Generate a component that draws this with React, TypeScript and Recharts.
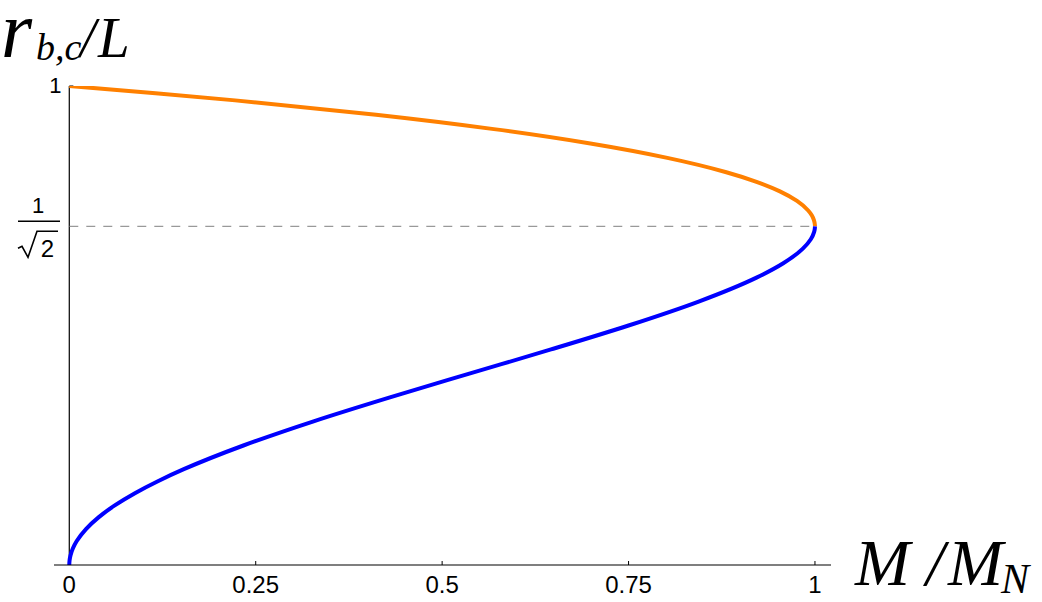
import React from 'react';
import { LineChart, Line, XAxis, YAxis, ReferenceLine, Label } from 'recharts';

// horizon radius r/L along the lower (blue) branch and the M/M_N read at each
const blueRadius = [0, 0.005, 0.01, 0.02, 0.035, 0.05, 0.075, 0.1, 0.125, 0.15, 0.175, 0.2, 0.25, 0.3, 0.35, 0.4, 0.45, 0.5, 0.55, 0.6, 0.63, 0.66, 0.68, 0.695, 0.7, 0.7071];
const blueMass = [0, 0.0001, 0.0004, 0.0016, 0.0049, 0.01, 0.0224, 0.0396, 0.0615, 0.088, 0.1188, 0.1536, 0.2344, 0.3276, 0.43, 0.5376, 0.646, 0.75, 0.844, 0.9216, 0.9575, 0.9834, 0.9944, 0.9988, 0.9996, 1];

// upper (orange) branch
const orangeRadius = [0.7071, 0.71, 0.72, 0.73, 0.74, 0.76, 0.78, 0.8, 0.82, 0.85, 0.88, 0.91, 0.94, 0.97, 0.985, 1];
const orangeMass = [1, 0.9999, 0.9986, 0.9957, 0.9909, 0.9759, 0.953, 0.9216, 0.8811, 0.802, 0.6988, 0.5694, 0.4114, 0.2224, 0.1156, 0];

const xTicks = [0, 0.25, 0.5, 0.75, 1];
const xTickLabels = ['0', '0.25', '0.5', '0.75', '1'];
const invSqrt2 = 0.7071;
const yTicks = [invSqrt2, 1];

const blueData = blueRadius.map((r, i) => ({ m: blueMass[i], r }));
const orangeData = orangeRadius.map((r, i) => ({ m: orangeMass[i], r }));

const sans = '"Liberation Sans", Arial, sans-serif';
const serif = '"Liberation Serif", "Times New Roman", serif';

const XTick = ({ x, y, payload }: any) => {
  const idx = xTicks.indexOf(payload.value);
  return (
    <g>
      {payload.value !== 0 && <line x1={x} x2={x} y1={y - 4} y2={y} stroke="#000" strokeWidth={1} />}
      <text x={x} y={y + 28} textAnchor="middle" fontSize={24} fontFamily={sans} fill="#000">
        {xTickLabels[idx]}
      </text>
    </g>
  );
};

const YTick = ({ x, y, payload }: any) => {
  if (payload.value === 1) {
    return (
      <text x={x + 7.5} y={y + 7} textAnchor="end" fontSize={22} fontFamily={sans} fill="#000">1</text>
    );
  }
  return (
    <g fontFamily={sans} fill="#000">
      <text x={x - 16} y={y - 13} textAnchor="middle" fontSize={22}>1</text>
      <line x1={x - 36} x2={x + 6} y1={y - 5} y2={y - 5} stroke="#000" strokeWidth={1.6} />
      <path
        d={`M${x - 36},${y + 22} L${x - 32},${y + 20} L${x - 26},${y + 31} L${x - 17},${y + 5} L${x + 4},${y + 5}`}
        fill="none"
        stroke="#000"
        strokeWidth={1.6}
      />
      <text x={x - 6.5} y={y + 31} textAnchor="middle" fontSize={24}>2</text>
    </g>
  );
};

const YTitle = () => (
  <g fontFamily={serif} fontStyle="italic" fill="#000">
    <text x={1} y={57} fontSize={80}>r</text>
    <text x={36} y={60} fontSize={38}>b,c</text>
    <text x={80} y={57} fontSize={56}>/</text>
    <text x={98} y={57} fontSize={57}>L</text>
  </g>
);

const XTitle = () => (
  <g fontFamily={serif} fontStyle="italic" fill="#000">
    <text x={855} y={585} fontSize={66}>M</text>
    <text x={926} y={585} fontSize={66}>/</text>
    <text x={948} y={585} fontSize={66}>M</text>
    <text x={1001} y={593} fontSize={42}>N</text>
  </g>
);

export default function App() {
  return (
    <div style={{ position: 'absolute', left: 0, top: 0, background: '#fff' }}>
      <LineChart width={1042} height={602} margin={{ top: 86, right: 211, bottom: 0, left: 0 }}>
        <XAxis
          dataKey="m"
          type="number"
          domain={[-0.0205, 1.0215]}
          allowDataOverflow
          ticks={xTicks}
          tick={<XTick />}
          tickLine={false}
          tickSize={0}
          tickMargin={0}
          height={37}
          axisLine={{ stroke: '#000', strokeWidth: 1.2 }}
        >
          <Label content={<XTitle />} />
        </XAxis>
        <YAxis
          dataKey="r"
          type="number"
          domain={[0, 1]}
          allowDataOverflow
          ticks={yTicks}
          tick={<YTick />}
          tickLine={false}
          tickSize={0}
          tickMargin={0}
          axisLine={false}
          width={54}
        >
          <Label content={<YTitle />} />
        </YAxis>
        <ReferenceLine segment={[{ x: 0, y: 0 }, { x: 0, y: 1 }]} stroke="#000" strokeWidth={1.2} />
        <ReferenceLine segment={[{ x: 0, y: 1 }, { x: 0.0055, y: 1 }]} stroke="#000" strokeWidth={1} />
        <ReferenceLine
          segment={[{ x: 0, y: invSqrt2 }, { x: 1, y: invSqrt2 }]}
          stroke="#808080"
          strokeWidth={1}
          strokeDasharray="9 8"
        />
        <Line data={orangeData} dataKey="r" type="monotoneY" stroke="#FF8000" strokeWidth={4} dot={false} isAnimationActive={false} />
        <Line data={blueData} dataKey="r" type="monotoneY" stroke="#0000FF" strokeWidth={4} dot={false} isAnimationActive={false} />
      </LineChart>
    </div>
  );
}
